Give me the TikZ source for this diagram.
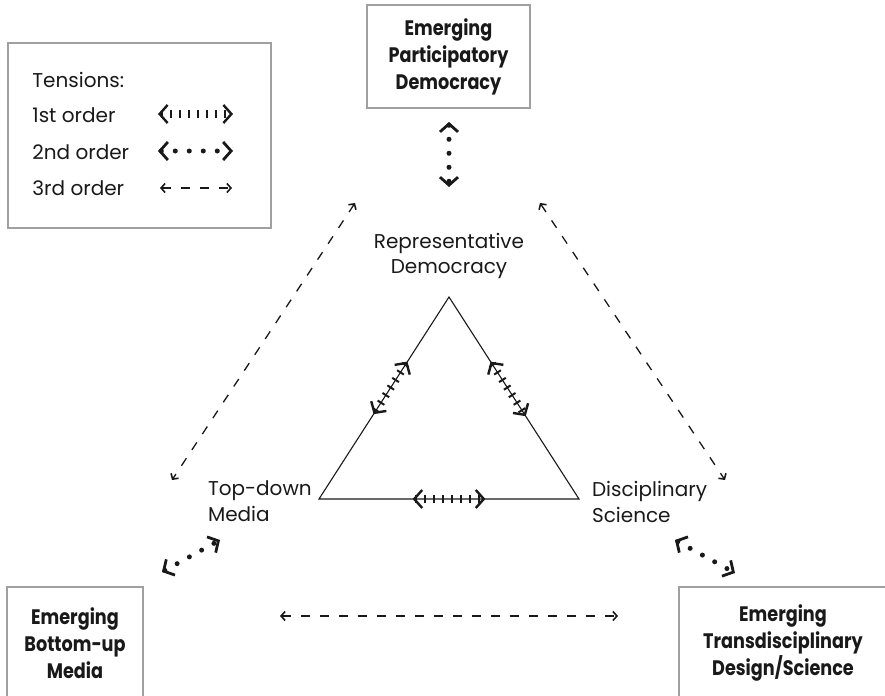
\documentclass[tikz,border=0pt]{standalone}
\usepackage{fontspec}
\setmainfont{Poppins}[BoldFeatures={FakeStretch=0.84}]
\usetikzlibrary{arrows.meta,positioning,calc}
\definecolor{frame}{RGB}{160,160,160}
\definecolor{ink}{RGB}{25,25,25}
\tikzstyle{emerging} = [rectangle, draw=frame, line width=0.6pt, text=ink, align=center, font=\bfseries\fontsize{10.5}{13.5}\selectfont]
\tikzstyle{corner} = [text=ink, font=\fontsize{10}{12.8}\selectfont]
\tikzstyle{legtext} = [text=ink, anchor=west, inner sep=0pt, font=\fontsize{10}{12.8}\selectfont]
\tikzstyle{tfirst} = [draw=ink, line width=4pt, dash pattern=on 1pt off 3.5pt, >={Straight Barb[length=4pt 0 0, width=9pt 0 0, line width=1.2pt 0 0]}, <->]
\tikzstyle{tsecond} = [draw=ink, line width=2.5pt, line cap=round, dash pattern=on 0pt off 7pt, >={Straight Barb[length=4pt 0 0, width=9pt 0 0, line width=1.4pt 0 0]}, <->]
\tikzstyle{tthird} = [draw=ink, line width=0.65pt, dash pattern=on 4.5pt off 5pt, >={Straight Barb[length=2pt 0 0, width=4.5pt 0 0, line width=0.8pt 0 0]}, <->]

\begin{document}
\begin{tikzpicture}[x=0.5pt, y=-0.5pt]
\clip (0,0) rectangle (885,696);

% legend ==================================
\node[draw=frame, line width=0.6pt, minimum width=131.5pt, minimum height=92.5pt] (legend) at (139.5,135.5) {};
\node[legtext] (tens) at (32,80) {Tensions:};
\node[legtext] (ord1) at (32,115) {1st order};
\node[legtext] (ord2) at (32,152) {2nd order};
\node[legtext] (ord3) at (32,188) {3rd order};
\coordinate (l1a) at (158,114);
\coordinate (l1b) at (233,114);
\coordinate (l2a) at (158,151);
\coordinate (l2b) at (233,151);
\coordinate (l3a) at (160,188);
\coordinate (l3b) at (232,188);

% emerging =================================
\node[emerging, minimum width=81.5pt, minimum height=51.5pt] (particip) at (448.5,56.5) {Emerging\\Participatory\\Democracy};
\node[emerging, minimum width=68pt, minimum height=56pt] (bottomup) at (75,643) {Emerging\\Bottom-up\\Media};
\node[emerging, minimum width=104pt, minimum height=56pt] (transdisc) at (783,643) {Emerging\\Transdisciplinary\\Design/Science};

% triangle =================================
\coordinate (apex) at (449,297);
\coordinate (lcorner) at (319,499);
\coordinate (rcorner) at (579,499);
\node[corner, align=center] (repr) at (449,256) {Representative\\Democracy};
\node[corner, align=left, anchor=west] (topdown) at (201,501) {Top-down\\Media};
\node[corner, align=left, anchor=west] (discip) at (585,502) {Disciplinary\\Science};

\draw[ink, line width=0.55pt] (apex) -- (lcorner) -- (rcorner) -- cycle;

\coordinate (ls1) at ($(apex)!0.32!(lcorner)$);
\coordinate (ls2) at ($(apex)!0.58!(lcorner)$);
\coordinate (rs1) at ($(apex)!0.32!(rcorner)$);
\coordinate (rs2) at ($(apex)!0.59!(rcorner)$);
\coordinate (bs1) at ($(lcorner)!0.36!(rcorner)$);
\coordinate (bs2) at ($(lcorner)!0.64!(rcorner)$);

% free ends of the outer tensions
\coordinate (pd1) at (449,122);
\coordinate (pd2) at (449,187);
\coordinate (bm1) at (162,572);
\coordinate (bm2) at (220,540);
\coordinate (td1) at (675,540);
\coordinate (td2) at (735,573);
\coordinate (dl1) at (355,203);
\coordinate (dl2) at (172,480);
\coordinate (dr1) at (540,203);
\coordinate (dr2) at (725,480);
\coordinate (hb1) at (280,616);
\coordinate (hb2) at (618,616);

%edges
\path[tfirst] (l1a) -- (l1b);
\path[tsecond] (l2a) -- (l2b);
\path[tthird] (l3a) -- (l3b);

\path[tfirst] (ls1) -- (ls2);
\path[tfirst] (rs1) -- (rs2);
\path[tfirst] (bs1) -- (bs2);

\path[tsecond] (pd1) -- (pd2);
\path[tsecond] (bm1) -- (bm2);
\path[tsecond] (td1) -- (td2);

\path[tthird] (dl1) -- (dl2);
\path[tthird] (dr1) -- (dr2);
\path[tthird] (hb1) -- (hb2);

\end{tikzpicture}
\end{document}
